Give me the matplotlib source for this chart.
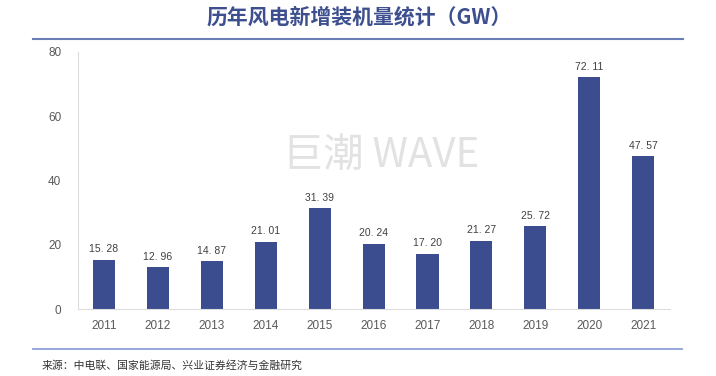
import matplotlib
matplotlib.use('Agg')
from matplotlib import pyplot as plt
from matplotlib.lines import Line2D

plt.rcParams['font.family'] = ['Noto Sans CJK SC', 'DejaVu Sans']

# data
years = ['2011', '2012', '2013', '2014', '2015', '2016', '2017', '2018', '2019', '2020', '2021']
added_gw = [15.28, 12.96, 14.87, 21.01, 31.39, 20.24, 17.20, 21.27, 25.72, 72.11, 47.57]
y_ticks = [0, 20, 40, 60, 80]

bar_color = '#3b4c8f'
tick_color = '#595959'

fig = plt.figure(figsize=(7.16, 3.76), dpi=100)
fig.patch.set_facecolor('white')
ax = fig.add_axes([0.109, 0.178, 0.827, 0.684])

xs = range(len(years))
ax.bar(xs, added_gw, width=0.41, color=bar_color, zorder=2)

for x, v in zip(xs, added_gw):
    ax.annotate(f'{v:.2f}'.replace('.', '. '), (x, v), xytext=(0, 4),
                textcoords='offset points', ha='center', va='bottom',
                fontsize=7.5, color='#404040', family='Liberation Sans')

ax.set_xlim(-0.48, 10.5)
ax.set_ylim(0, 80)
ax.set_xticks(list(xs))
ax.set_xticklabels(years, family='Liberation Sans', fontsize=8.5, color=tick_color)
ax.set_yticks(y_ticks)
ax.set_yticklabels([str(t) for t in y_ticks], family='Liberation Sans', fontsize=8.5, color=tick_color)
ax.tick_params(axis='x', length=0, pad=8)
ax.tick_params(axis='y', length=0, pad=12)

for side in ['top', 'right']:
    ax.spines[side].set_visible(False)
for side in ['left', 'bottom']:
    ax.spines[side].set_color('#dcdcdc')
    ax.spines[side].set_linewidth(0.8)

# watermark
fig.text(381 / 716, 1 - 155 / 376, '巨潮 WAVE', ha='center', va='center',
         fontsize=29, color='#e2e2e2', fontweight='light', zorder=0)

# title and rules
fig.text(359 / 716, 1 - 17 / 376, '历年风电新增装机量统计（GW）', ha='center', va='center',
         fontsize=15, fontweight='bold', color='#3d4f8f')
fig.add_artist(Line2D([33 / 716, 683 / 716], [1 - 38.5 / 376] * 2, color='#6a7fb8', lw=1.5))
fig.add_artist(Line2D([33 / 716, 682 / 716], [1 - 349 / 376] * 2, color='#8fa0d8', lw=1.3))

fig.text(42 / 716, 1 - 365 / 376, '来源：中电联、国家能源局、兴业证券经济与金融研究',
         ha='left', va='center', fontsize=7.8, color='#333333')

fig.savefig('out.png', dpi=100, facecolor='white')
